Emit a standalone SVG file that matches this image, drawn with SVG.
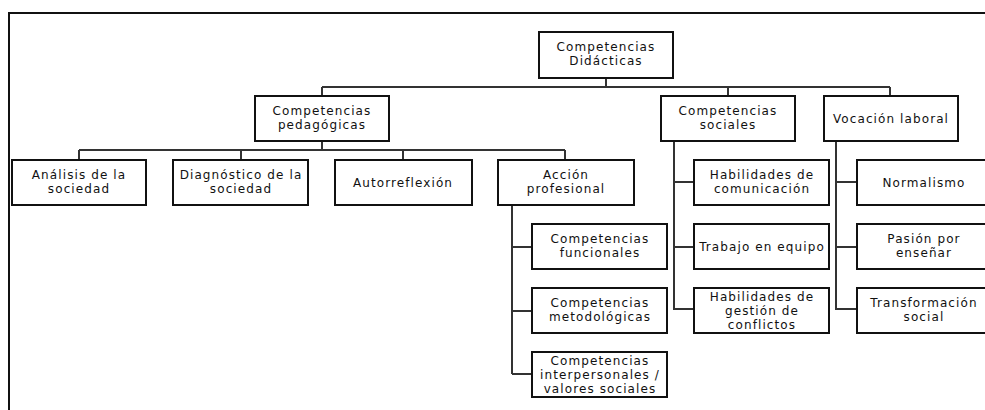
<svg xmlns="http://www.w3.org/2000/svg" width="985" height="410" viewBox="0 0 985 410">
<style>
.box{fill:#fff;stroke:#111;stroke-width:2}
.c{fill:none;stroke:#333;stroke-width:2}
.frame{fill:none;stroke:#111;stroke-width:2}
text{font-family:"DejaVu Sans","Open Sans",sans-serif;font-size:12px;letter-spacing:1.1px;fill:#111;text-anchor:middle}
</style>
<rect width="985" height="410" fill="#fff"/>
<path class="frame" d="M9,410 V13 H985"/>
<g id="connectors">
<path class="c" d="M606,78 V87 M322,87 H890 M322,87 V96 M728,87 V96 M890,87 V96"/>
<path class="c" d="M322,141 V150 M79,150 H565 M79,150 V160 M241,150 V160 M403,150 V160 M565,150 V160"/>
<path class="c" d="M512,205 V374 M512,247 H532 M512,311 H532 M512,374 H532"/>
<path class="c" d="M674,141 V309 H694 M674,182 H694 M674,247 H694"/>
<path class="c" d="M836,141 V309 H857 M836,182 H857 M836,247 H857"/>
</g>
<g id="root"><rect class="box" x="539" y="32" width="134" height="46"/><text x="606" y="51">Competencias</text><text x="606" y="65">Didácticas</text></g>
<g id="pedagogicas"><rect class="box" x="255" y="96" width="134" height="45"/><text x="322" y="115">Competencias</text><text x="322" y="129">pedagógicas</text></g>
<g id="sociales"><rect class="box" x="661" y="96" width="134" height="45"/><text x="728" y="115">Competencias</text><text x="728" y="129">sociales</text></g>
<g id="vocacion"><rect class="box" x="824" y="96" width="134" height="45"/><text x="891" y="123">Vocación laboral</text></g>
<g id="analisis"><rect class="box" x="12" y="160" width="134" height="45"/><text x="79" y="179">Análisis de la</text><text x="79" y="193">sociedad</text></g>
<g id="diagnostico"><rect class="box" x="173" y="160" width="135" height="45"/><text x="241" y="179">Diagnóstico de la</text><text x="241" y="193">sociedad</text></g>
<g id="autorreflexion"><rect class="box" x="335" y="160" width="137" height="45"/><text x="403" y="187">Autorreflexión</text></g>
<g id="accion"><rect class="box" x="498" y="160" width="136" height="45"/><text x="566" y="179">Acción</text><text x="566" y="193">profesional</text></g>
<g id="funcionales"><rect class="box" x="532" y="224" width="135" height="45"/><text x="600" y="243">Competencias</text><text x="600" y="257">funcionales</text></g>
<g id="metodologicas"><rect class="box" x="532" y="288" width="135" height="45"/><text x="600" y="307">Competencias</text><text x="600" y="321">metodológicas</text></g>
<g id="interpersonales"><rect class="box" x="532" y="352" width="135" height="45"/><text x="600" y="365">Competencias</text><text x="600" y="379">interpersonales /</text><text x="600" y="393">valores sociales</text></g>
<g id="comunicacion"><rect class="box" x="694" y="160" width="135" height="45"/><text x="762" y="179">Habilidades de</text><text x="762" y="193">comunicación</text></g>
<g id="equipo"><rect class="box" x="694" y="224" width="135" height="45"/><text x="762" y="251">Trabajo en equipo</text></g>
<g id="conflictos"><rect class="box" x="694" y="288" width="135" height="45"/><text x="762" y="301">Habilidades de</text><text x="762" y="315">gestión de</text><text x="762" y="329">conflictos</text></g>
<g id="normalismo"><rect class="box" x="857" y="160" width="134" height="45"/><text x="924" y="187">Normalismo</text></g>
<g id="pasion"><rect class="box" x="857" y="224" width="134" height="45"/><text x="924" y="243">Pasión por</text><text x="924" y="257">enseñar</text></g>
<g id="transformacion"><rect class="box" x="857" y="288" width="134" height="45"/><text x="924" y="307">Transformación</text><text x="924" y="321">social</text></g>
</svg>
